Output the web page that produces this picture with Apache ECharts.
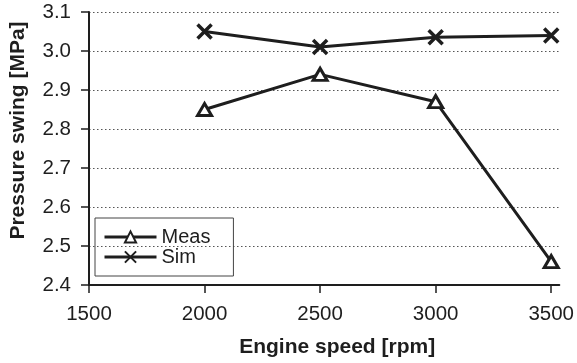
<!DOCTYPE html>
<html>
<head>
<meta charset="utf-8">
<script src="https://cdn.jsdelivr.net/npm/echarts@6/dist/echarts.min.js"></script>
<style>
  html, body { margin: 0; padding: 0; background: #fff; }
  #chart { width: 577px; height: 363px; }
</style>
</head>
<body>
<div id="chart"></div>
<script>
// Engine speed [rpm] and pressure swing [MPa] per series
const speeds = [2000, 2500, 3000, 3500];
const measValues = [2.85, 2.94, 2.87, 2.46];
const simValues = [3.05, 3.01, 3.035, 3.04];
const xTicks = [1500, 2000, 2500, 3000, 3500];

const ink = '#1e1e1e';
const font = '"Liberation Sans", Arial, sans-serif';
const crossPath = 'path://M0,0L10,10M10,0L0,10';

const pairs = (xs, ys) => xs.map((x, i) => [x, ys[i]]);

const chart = echarts.init(document.getElementById('chart'), null, { renderer: 'canvas' });
chart.setOption({
  animation: false,
  backgroundColor: '#fff',
  textStyle: { fontFamily: font },
  grid: { left: 88, right: 11, top: 12, bottom: 76, containLabel: false },
  legend: {
    orient: 'vertical',
    left: 95,
    top: 218,
    padding: [9, 23, 9, 8],
    itemGap: 0,
    itemWidth: 52,
    itemHeight: 14,
    borderColor: '#444',
    borderWidth: 1,
    lineStyle: { width: 3, color: ink },
    textStyle: { fontFamily: font, fontSize: 20, color: ink, lineHeight: 20 },
    data: ['Meas', 'Sim']
  },
  xAxis: {
    type: 'value',
    min: 1500,
    max: 3535,
    interval: 500,
    name: 'Engine speed [rpm]',
    nameLocation: 'middle',
    nameGap: 52,
    nameTextStyle: { fontFamily: font, fontSize: 21, fontWeight: 'bold', color: ink, padding: [0, 0, 0, 26] },
    axisLine: { show: true, lineStyle: { color: ink, width: 2 } },
    axisTick: { show: true, length: 8, customValues: xTicks, lineStyle: { color: ink, width: 1.5 } },
    axisLabel: { customValues: xTicks, margin: 19, fontFamily: font, fontSize: 20.5, color: ink, formatter: v => String(v) },
    splitLine: { show: false }
  },
  yAxis: {
    type: 'value',
    min: 2.4,
    max: 3.1,
    interval: 0.1,
    name: 'Pressure swing [MPa]',
    nameLocation: 'middle',
    nameGap: 60,
    nameTextStyle: { fontFamily: font, fontSize: 21, fontWeight: 'bold', color: ink, padding: [0, 0, 0, 36] },
    axisLine: { show: true, lineStyle: { color: ink, width: 2 } },
    axisTick: { show: true, length: 8, lineStyle: { color: ink, width: 1.5 } },
    axisLabel: { margin: 18, fontFamily: font, fontSize: 20.5, color: ink, formatter: v => v.toFixed(1) },
    splitLine: { show: true, lineStyle: { color: '#555', width: 1.2, type: [1.5, 2.5] } }
  },
  series: [
    {
      name: 'Meas',
      type: 'line',
      data: pairs(speeds, measValues),
      symbol: 'triangle',
      symbolSize: [14, 12],
      lineStyle: { color: ink, width: 3 },
      itemStyle: { color: '#fff', borderColor: ink, borderWidth: 3 },
      z: 3
    },
    {
      name: 'Sim',
      type: 'line',
      data: pairs(speeds, simValues),
      symbol: crossPath,
      symbolSize: 14,
      lineStyle: { color: ink, width: 3 },
      itemStyle: { color: ink, borderColor: ink, borderWidth: 3.5 },
      z: 3
    }
  ]
});
</script>
</body>
</html>
